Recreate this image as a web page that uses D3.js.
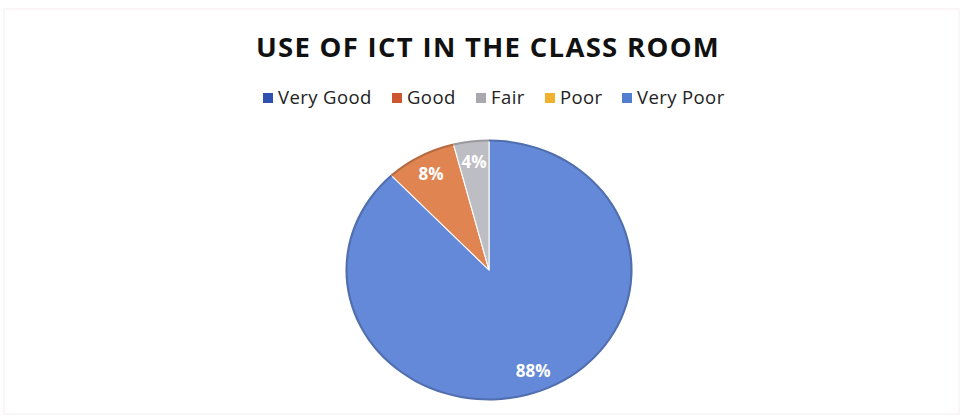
<!DOCTYPE html>
<html>
<head>
<meta charset="utf-8">
<script src="https://cdn.jsdelivr.net/npm/d3@7"></script>
<style>
  body { margin: 0; background: #fff; }
  svg { display: block; font-family: "Open Sans", sans-serif; }
</style>
</head>
<body>
<div id="chart"></div>
<script>
var width = 963, height = 417;

// data
var categories = ["Very Good", "Good", "Fair", "Poor", "Very Poor"];
var values = [88, 8, 4, 0, 0];
var sliceColors = ["#6489d8", "#e08552", "#bdbdc4", "#f4b63a", "#5d8fd6"];
var legendColors = ["#2f52b0", "#cc5630", "#a8a8ae", "#f0b030", "#4f7ed0"];
var title = "USE OF ICT IN THE CLASS ROOM";

var svg = d3.select("#chart")
  .append("svg")
  .attr("width", width)
  .attr("height", height);

// faint frame from the scan
svg.append("rect")
  .attr("x", 4).attr("y", 9)
  .attr("width", width - 8).attr("height", height - 12)
  .attr("fill", "none")
  .attr("stroke", "#f5eef0")
  .attr("stroke-width", 1);

// title
svg.append("text")
  .attr("x", 488)
  .attr("y", 57)
  .attr("text-anchor", "middle")
  .attr("font-size", 27.5)
  .attr("font-weight", 700)
  .attr("letter-spacing", 1.3)
  .attr("fill", "#111")
  .text(title);

// legend
var legendX = [263, 392, 476, 545, 622];
var legend = svg.append("g").attr("class", "legend");
categories.forEach(function(c, i) {
  var g = legend.append("g").attr("transform", "translate(" + legendX[i] + ",98)");
  g.append("rect")
    .attr("x", 0).attr("y", -5)
    .attr("width", 10).attr("height", 10)
    .attr("fill", legendColors[i]);
  g.append("text")
    .attr("x", 15)
    .attr("y", 0)
    .attr("dy", "0.35em")
    .attr("font-size", 18.5)
    .attr("letter-spacing", 0.4)
    .attr("fill", "#222")
    .text(c);
});

// pie (scanned slightly wide, so stretch x)
var cx = 489, cy = 270, r = 130, sx = 1.1;

var pie = d3.pie()
  .sort(null)
  .value(function(d) { return d; });

var arcs = pie(values);

var arc = d3.arc()
  .innerRadius(0)
  .outerRadius(r);

var pieG = svg.append("g")
  .attr("transform", "translate(" + cx + "," + cy + ") scale(" + sx + ",1)");

pieG.selectAll("path.slice")
  .data(arcs.filter(function(d) { return d.value > 0; }))
  .enter()
  .append("path")
  .attr("class", "slice")
  .attr("d", arc)
  .attr("fill", function(d) { return sliceColors[d.index]; })
  .attr("stroke", "#fff")
  .attr("stroke-width", 1);

// darker rim like the scan
pieG.selectAll("path.rim")
  .data(arcs.filter(function(d) { return d.value > 0; }))
  .enter()
  .append("path")
  .attr("class", "rim")
  .attr("d", d3.arc().innerRadius(r - 1.5).outerRadius(r + 0.5))
  .attr("fill", function(d) { return d3.color(sliceColors[d.index]).darker(0.6); });

// labels
var labelArc = d3.arc().innerRadius(r * 0.84).outerRadius(r * 0.84);
svg.selectAll("text.lbl")
  .data(arcs.filter(function(d) { return d.value > 0; }))
  .enter()
  .append("text")
  .attr("class", "lbl")
  .attr("x", function(d) { return cx + labelArc.centroid(d)[0] * sx; })
  .attr("y", function(d) { return cy + labelArc.centroid(d)[1]; })
  .attr("dy", "0.35em")
  .attr("text-anchor", "middle")
  .attr("font-size", 17)
  .attr("font-weight", 700)
  .attr("fill", "#fff")
  .text(function(d) { return d.value + "%"; });
</script>
</body>
</html>
